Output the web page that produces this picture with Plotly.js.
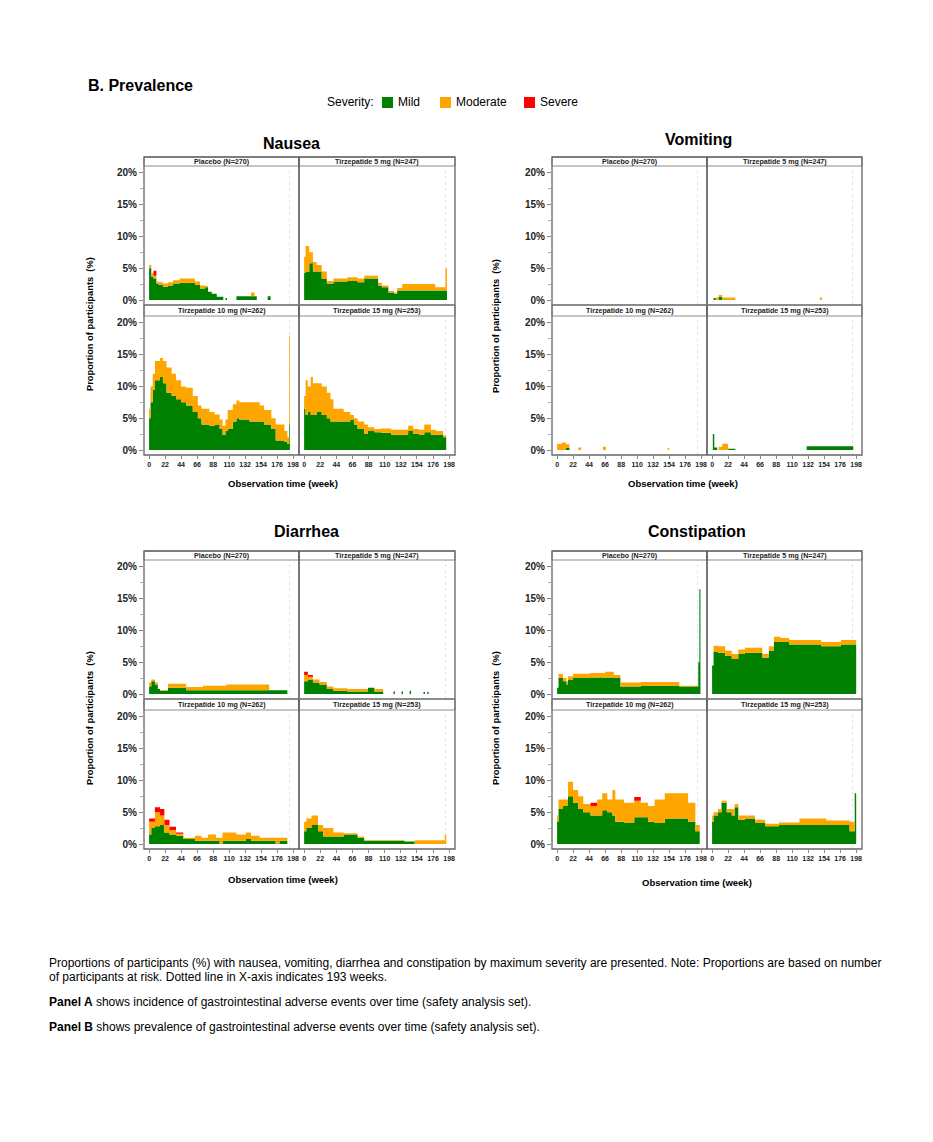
<!DOCTYPE html>
<html>
<head>
<meta charset="utf-8">
<script src="https://cdn.plot.ly/plotly-3.0.1.min.js"></script>
<style>html,body{margin:0;padding:0;background:#fff}#chart{width:933px;height:1142px}</style>
</head>
<body>
<div id="chart"></div>
<script>
// ---------------- DATA (week = start of each step; values in %) ----------------
const xTicks = [0, 22, 44, 66, 88, 110, 132, 154, 176, 198];
const yTicks = [0, 5, 10, 15, 20];
const yTickText = ['0%', '5%', '10%', '15%', '20%'];
const armLabels = ['Placebo (N=270)', 'Tirzepatide 5 mg (N=247)', 'Tirzepatide 10 mg (N=262)', 'Tirzepatide 15 mg (N=253)'];
const eventNames = ['Nausea', 'Vomiting', 'Diarrhea', 'Constipation'];

// Nausea
const nauPboWeek = [0, 3, 6, 10, 13, 19, 26, 33, 42, 63, 70, 77, 81, 86, 93, 97, 102, 105, 107, 120, 140, 145, 148, 163, 167];
const nauPboMild = [5.0, 3.7, 3.4, 2.6, 2.4, 2.1, 2.3, 2.6, 2.7, 2.4, 1.8, 2.0, 1.3, 1.0, 0.5, 0.5, 0, 0.3, 0, 0.6, 0.6, 0.6, 0, 0.6, 0];
const nauPboMod  = [0.5, 0.5, 0.4, 0.3, 0.4, 0.5, 0.5, 0.5, 0.7, 0.5, 0.5, 0.2, 0, 0, 0, 0, 0, 0, 0, 0, 0.6, 0, 0, 0, 0];
const nauPboSev  = [0, 0, 0.8, 0, 0, 0, 0, 0, 0, 0, 0, 0, 0, 0, 0, 0, 0, 0, 0, 0, 0, 0, 0, 0, 0];

const nauT5Week = [0, 2, 7, 12, 17, 24, 31, 40, 59, 73, 82, 101, 106, 115, 123, 127, 134, 179, 193, 195];
const nauT5Mild = [4.3, 4.5, 5.8, 4.5, 4.5, 3.3, 2.6, 2.9, 3.0, 2.8, 3.4, 2.3, 2.0, 1.2, 1.0, 1.5, 1.5, 1.5, 1.5, 0];
const nauT5Mod  = [2.5, 4.0, 1.7, 1.5, 1.0, 1.2, 0.4, 0.5, 0.6, 0.6, 0.4, 0.4, 0.3, 0.2, 0.2, 0.4, 1.0, 0.5, 3.5, 0];
const nauT5Sev  = [0, 0, 0, 0, 0, 0, 0, 0, 0, 0, 0, 0, 0, 0, 0, 0, 0, 0, 0, 0];

const nauT10Week = [0, 2, 5, 8, 15, 19, 24, 31, 37, 44, 51, 60, 67, 72, 83, 90, 97, 101, 105, 108, 115, 120, 124, 138, 152, 158, 168, 174, 186, 190, 192.5, 193.5];
const nauT10Mild = [5.0, 7.5, 9.5, 11.0, 11.5, 10.5, 9.0, 8.5, 8.0, 7.5, 7.0, 6.0, 5.0, 4.0, 3.8, 4.0, 3.3, 2.4, 3.0, 3.3, 4.5, 5.0, 4.8, 4.5, 4.5, 4.0, 3.3, 1.5, 1.3, 1.0, 4.0, 0];
const nauT10Mod  = [1.5, 2.5, 2.5, 3.0, 3.0, 3.5, 4.0, 3.5, 3.0, 2.5, 2.8, 2.5, 2.0, 2.5, 2.2, 1.6, 1.5, 1.4, 1.8, 3.0, 2.7, 2.8, 2.7, 3.0, 2.5, 2.3, 1.7, 2.5, 1.7, 1.0, 14.0, 0];
const nauT10Sev  = [0, 0, 0, 0, 0, 0, 0, 0, 0, 0, 0, 0, 0, 0, 0, 0, 0, 0, 0, 0, 0, 0, 0, 0, 0, 0, 0, 0, 0, 0, 0, 0];

const nauT15Week = [0, 2, 5, 9, 12, 17, 24, 31, 36, 40, 54, 63, 68, 73, 82, 87, 96, 105, 119, 142, 149, 157, 164, 173, 180, 190, 194];
const nauT15Mild = [6.5, 5.5, 6.0, 5.5, 5.5, 6.0, 5.5, 5.0, 4.5, 4.5, 4.5, 4.8, 4.0, 3.3, 2.5, 3.0, 2.8, 2.7, 2.4, 3.0, 2.5, 2.4, 2.8, 2.4, 2.4, 2.0, 0];
const nauT15Mod  = [2.0, 5.5, 4.0, 6.0, 5.0, 4.5, 4.5, 4.0, 3.5, 2.0, 1.5, 0.7, 1.0, 1.2, 1.5, 0.6, 0.5, 0.7, 0.8, 0.8, 0.8, 0.8, 1.2, 0.8, 0.6, 0.3, 0];
const nauT15Sev  = [0, 0, 0, 0, 0, 0, 0, 0, 0, 0, 0, 0, 0, 0, 0, 0, 0, 0, 0, 0, 0, 0, 0, 0, 0, 0, 0];

// Vomiting
const vomPboWeek = [0, 194];
const vomPboMild = [0, 0];
const vomPboMod  = [0, 0];
const vomPboSev  = [0, 0];

const vomT5Week = [0, 2, 5, 9, 14, 32, 148, 151, 194];
const vomT5Mild = [0, 0.3, 0, 0.5, 0, 0, 0, 0, 0];
const vomT5Mod  = [0, 0, 0.4, 0.3, 0.4, 0, 0.4, 0, 0];
const vomT5Sev  = [0, 0, 0, 0, 0, 0, 0, 0, 0];

const vomT10Week = [0, 7, 12, 17, 29, 33, 63, 67, 152, 154, 194];
const vomT10Mild = [0, 0, 0.3, 0, 0, 0, 0, 0, 0, 0, 0];
const vomT10Mod  = [1.0, 1.2, 0.6, 0, 0.4, 0, 0.5, 0, 0.3, 0, 0];
const vomT10Sev  = [0, 0, 0, 0, 0, 0, 0, 0, 0, 0, 0];

const vomT15Week = [0, 1, 3, 7, 9, 14, 22, 32, 130, 194];
const vomT15Mild = [0, 2.5, 0.4, 0, 0, 0, 0.2, 0, 0.6, 0];
const vomT15Mod  = [0, 0, 0, 0, 0.5, 1.0, 0, 0, 0, 0];
const vomT15Sev  = [0, 0, 0, 0, 0, 0, 0, 0, 0, 0];

// Diarrhea
const diaPboWeek = [0, 3, 8, 12, 15, 26, 51, 74, 106, 165, 190];
const diaPboMild = [1.2, 2.0, 1.5, 0.8, 0.5, 1.0, 0.6, 0.6, 0.6, 0.6, 0];
const diaPboMod  = [0.6, 0.3, 0.3, 0, 0.1, 0.6, 0.5, 0.7, 0.9, 0, 0];
const diaPboSev  = [0, 0, 0, 0, 0, 0, 0, 0, 0, 0, 0];

const diaT5Week = [0, 5, 12, 21, 31, 40, 59, 87, 96, 108, 122, 124, 133, 135, 144, 146, 163, 165, 168, 170];
const diaT5Mild = [2.0, 2.2, 1.8, 1.5, 0.8, 0.5, 0.4, 1.0, 0.4, 0, 0.4, 0, 0.4, 0, 0.5, 0, 0.3, 0, 0.3, 0];
const diaT5Mod  = [1.0, 0.5, 0.5, 0.4, 0.4, 0.4, 0.4, 0, 0.4, 0, 0, 0, 0, 0, 0, 0, 0, 0, 0, 0];
const diaT5Sev  = [0.5, 0.3, 0, 0, 0, 0, 0, 0, 0, 0, 0, 0, 0, 0, 0, 0, 0, 0, 0, 0];

const diaT10Week = [0, 3, 8, 15, 21, 28, 37, 47, 63, 72, 81, 92, 97, 101, 120, 133, 140, 152, 174, 179, 190];
const diaT10Mild = [1.5, 2.5, 2.8, 3.0, 1.8, 1.5, 1.3, 0.8, 0.5, 0.5, 0.5, 0.5, 0, 0.5, 0.5, 0.8, 0.5, 0.5, 0, 0.5, 0];
const diaT10Mod  = [2.0, 1.0, 2.2, 1.5, 1.2, 0.7, 0.3, 0.2, 0.8, 0.5, 1.0, 0.5, 1.0, 1.3, 1.0, 1.0, 0.8, 0.5, 1.0, 0.5, 0];
const diaT10Sev  = [0.5, 0.5, 0.8, 1.0, 0.8, 0.5, 0.2, 0, 0, 0, 0, 0, 0, 0, 0, 0, 0, 0, 0, 0, 0];

const diaT15Week = [0, 3, 10, 19, 26, 40, 54, 73, 82, 137, 151, 192, 194];
const diaT15Mild = [2.0, 2.5, 3.0, 2.0, 1.2, 1.2, 1.5, 1.0, 0.5, 0.4, 0, 0, 0];
const diaT15Mod  = [1.5, 1.5, 1.5, 1.0, 1.3, 0.6, 0.2, 0.2, 0.1, 0, 0.6, 1.5, 0];
const diaT15Sev  = [0, 0, 0, 0, 0, 0, 0, 0, 0, 0, 0, 0, 0];

// Constipation
const conPboWeek = [0, 2, 8, 13, 15, 22, 45, 66, 78, 87, 115, 168, 194, 195.5, 197];
const conPboMild = [1.0, 2.5, 2.0, 1.5, 2.3, 2.5, 2.6, 2.6, 2.5, 1.2, 1.3, 1.2, 5.0, 16.5, 0];
const conPboMod  = [0, 0.7, 0.5, 0.5, 0.5, 0.7, 0.7, 0.9, 0.5, 0.6, 0.6, 0.1, 0, 0, 0];
const conPboSev  = [0, 0, 0, 0, 0, 0, 0, 0, 0, 0, 0, 0, 0, 0, 0];

const conT5Week = [0, 2, 8, 18, 27, 36, 45, 69, 78, 85, 94, 106, 150, 177, 198];
const conT5Mild = [4.5, 6.7, 6.5, 6.0, 5.5, 6.3, 6.5, 5.7, 6.8, 8.2, 8.2, 7.8, 7.5, 7.8, 0];
const conT5Mod  = [0, 0.9, 1.0, 0.8, 0.8, 0.7, 0.8, 0.6, 0.7, 0.8, 0.6, 0.7, 0.7, 0.7, 0];
const conT5Sev  = [0, 0, 0, 0, 0, 0, 0, 0, 0, 0, 0, 0, 0, 0, 0];

const conT10Week = [0, 2, 8, 15, 22, 29, 36, 46, 55, 62, 69, 76, 80, 92, 106, 115, 125, 134, 148, 180, 190, 196];
const conT10Mild = [3.5, 5.5, 6.0, 7.5, 6.5, 5.5, 5.0, 4.5, 4.5, 5.3, 5.0, 4.5, 3.5, 3.3, 4.2, 4.2, 3.5, 3.3, 4.0, 3.5, 2.0, 0];
const conT10Mod  = [1.0, 1.5, 1.0, 2.3, 2.0, 2.0, 1.3, 1.5, 2.5, 2.7, 2.0, 4.0, 3.5, 3.2, 2.6, 2.3, 2.5, 3.7, 4.0, 3.0, 1.0, 0];
const conT10Sev  = [0, 0, 0, 0, 0, 0, 0, 0.5, 0, 0, 0, 0, 0, 0, 0.6, 0, 0, 0, 0, 0, 0, 0];

const conT15Week = [0, 2, 8, 13, 20, 27, 31, 36, 45, 59, 73, 92, 120, 157, 189, 196, 198];
const conT15Mild = [3.5, 4.5, 5.0, 6.5, 5.0, 4.5, 5.8, 3.8, 4.0, 3.3, 2.8, 3.0, 3.0, 3.0, 2.0, 8.0, 0];
const conT15Mod  = [1.0, 0.5, 0.5, 0.3, 0.5, 1.0, 0.5, 0.7, 0.5, 0.5, 0.4, 0.4, 1.0, 0.7, 1.5, 0, 0];
const conT15Sev  = [0, 0, 0, 0, 0, 0, 0, 0, 0, 0, 0, 0, 0, 0, 0, 0, 0];

// ---------------- BUILD ----------------
const W = 933, H = 1142;
const FONT = 'Arial, "Liberation Sans", sans-serif';
const C = {mild: '#008000', mod: '#FFA500', sev: '#FF0000'};
const px = v => v / W, py = v => 1 - v / H;

const panelsData = [
  [[nauPboWeek, nauPboMild, nauPboMod, nauPboSev], [nauT5Week, nauT5Mild, nauT5Mod, nauT5Sev], [nauT10Week, nauT10Mild, nauT10Mod, nauT10Sev], [nauT15Week, nauT15Mild, nauT15Mod, nauT15Sev]],
  [[vomPboWeek, vomPboMild, vomPboMod, vomPboSev], [vomT5Week, vomT5Mild, vomT5Mod, vomT5Sev], [vomT10Week, vomT10Mild, vomT10Mod, vomT10Sev], [vomT15Week, vomT15Mild, vomT15Mod, vomT15Sev]],
  [[diaPboWeek, diaPboMild, diaPboMod, diaPboSev], [diaT5Week, diaT5Mild, diaT5Mod, diaT5Sev], [diaT10Week, diaT10Mild, diaT10Mod, diaT10Sev], [diaT15Week, diaT15Mild, diaT15Mod, diaT15Sev]],
  [[conPboWeek, conPboMild, conPboMod, conPboSev], [conT5Week, conT5Mild, conT5Mod, conT5Sev], [conT10Week, conT10Mild, conT10Mod, conT10Sev], [conT15Week, conT15Mild, conT15Mod, conT15Sev]]
];

const geo = [
  {L: 144, M: 299, R: 455, dy: 0,   title: [291, 143], xt: [283, 483], yt: [90, 324]},
  {L: 552, M: 707, R: 862, dy: 0,   title: [698, 139], xt: [683, 483], yt: [496, 326]},
  {L: 144, M: 299, R: 455, dy: 394, title: [306, 531], xt: [283, 880], yt: [90, 718]},
  {L: 552, M: 707, R: 862, dy: 394, title: [697, 531], xt: [697, 882], yt: [496, 718]}
];

const traces = [], shapes = [], annotations = [];
const layout = {
  width: W, height: H, margin: {l: 0, r: 0, t: 0, b: 0},
  paper_bgcolor: '#fff', plot_bgcolor: 'rgba(0,0,0,0)',
  showlegend: false, font: {family: FONT, color: '#000'}
};

function ann(text, x, y, size, opts) {
  annotations.push(Object.assign({
    text: text, x: px(x), y: py(y), xref: 'paper', yref: 'paper',
    showarrow: false, xanchor: 'center', yanchor: 'middle',
    font: {family: FONT, size: size, color: '#000'}
  }, opts || {}));
}

let axn = 0;
geo.forEach((g, gi) => {
  const rowsY = [[166 + g.dy, 305 + g.dy], [316 + g.dy, 455 + g.dy]];
  const stripY = [[157 + g.dy, 166 + g.dy], [305 + g.dy, 316 + g.dy]];
  const colsX = [[g.L, g.M], [g.M, g.R]];
  for (let k = 0; k < 4; k++) {
    axn++;
    const row = Math.floor(k / 2), col = k % 2;
    const xs = axn === 1 ? '' : String(axn);
    const [wk, mi, mo, se] = panelsData[gi][k];
    [[mi, C.mild], [mo, C.mod], [se, C.sev]].forEach(([vals, colr]) => {
      traces.push({
        type: 'scatter', mode: 'lines', x: wk, y: vals, stackgroup: 'sg' + axn,
        line: {shape: 'hv', width: 0, color: colr}, fillcolor: colr,
        xaxis: 'x' + xs, yaxis: 'y' + xs, hoverinfo: 'skip', showlegend: false
      });
    });
    layout['xaxis' + xs] = {
      domain: [px(colsX[col][0]), px(colsX[col][1])], anchor: 'y' + xs,
      range: [-7, 206], showgrid: false, zeroline: false, showline: false,
      tickmode: 'array', tickvals: xTicks, ticktext: xTicks.map(String),
      ticks: row === 1 ? 'outside' : '', ticklen: 3, tickcolor: '#888', tickwidth: 1,
      showticklabels: row === 1,
      tickfont: {family: FONT, size: 7, color: '#222', weight: 'bold'}, fixedrange: true
    };
    layout['yaxis' + xs] = {
      domain: [py(rowsY[row][1]), py(rowsY[row][0])], anchor: 'x' + xs,
      range: [-0.787, 21.1], showgrid: false, zeroline: false, showline: false,
      tickmode: 'array', tickvals: yTicks, ticktext: yTickText,
      ticks: col === 0 ? 'outside' : '', ticklen: 4, tickcolor: '#888', tickwidth: 1,
      showticklabels: col === 0,
      minor: col === 0 ? {tickmode: 'array', tickvals: [2.5, 7.5, 12.5, 17.5], ticks: 'outside', ticklen: 3, tickcolor: '#aaa'} : undefined,
      tickfont: {family: FONT, size: 10, color: '#222', weight: 'bold'}, fixedrange: true
    };
    // dotted line at week 193
    shapes.push({type: 'line', xref: 'x' + xs, yref: 'y' + xs + ' domain', x0: 193, x1: 193, y0: 0, y1: 1,
      line: {color: '#dadada', width: 0.8, dash: 'dot'}, layer: 'below'});
    // strip
    shapes.push({type: 'rect', xref: 'paper', yref: 'paper',
      x0: px(colsX[col][0]), x1: px(colsX[col][1]), y0: py(stripY[row][1]), y1: py(stripY[row][0]),
      line: {color: '#8c8c8c', width: 1}, fillcolor: '#ffffff', layer: 'above'});
    ann('<b>' + armLabels[k] + '</b>', (colsX[col][0] + colsX[col][1]) / 2, (stripY[row][0] + stripY[row][1]) / 2 + 0.5, 7.1, {font: {family: FONT, size: 7.1, color: '#222'}});
  }
  // outer frame and divider
  shapes.push({type: 'rect', xref: 'paper', yref: 'paper', x0: px(g.L), x1: px(g.R), y0: py(455 + g.dy), y1: py(157 + g.dy),
    line: {color: '#666', width: 1.3}, fillcolor: 'rgba(0,0,0,0)', layer: 'above'});
  shapes.push({type: 'line', xref: 'paper', yref: 'paper', x0: px(g.M), x1: px(g.M), y0: py(455 + g.dy), y1: py(157 + g.dy),
    line: {color: '#555', width: 1.6}, layer: 'above'});
  shapes.push({type: 'line', xref: 'paper', yref: 'paper', x0: px(g.L), x1: px(g.R), y0: py(305 + g.dy), y1: py(305 + g.dy),
    line: {color: '#777', width: 1.6}, layer: 'above'});
  // titles
  ann('<b>' + eventNames[gi] + '</b>', g.title[0], g.title[1], 16);
  ann('<b>Observation time (week)</b>', g.xt[0], g.xt[1], 9.5);
  ann('<b>Proportion of participants  (%)</b>', g.yt[0], g.yt[1], 9.3, {textangle: -90});
});

// Header
ann('<b>B. Prevalence</b>', 86, 85, 16, {xanchor: 'left'});
ann('Severity:', 325, 102, 12, {xanchor: 'left'});
const legendItems = [['Mild', C.mild, 382], ['Moderate', C.mod, 440], ['Severe', C.sev, 524]];
legendItems.forEach(([t, c, x]) => {
  shapes.push({type: 'rect', xref: 'paper', yref: 'paper', x0: px(x), x1: px(x + 11), y0: py(108), y1: py(97),
    fillcolor: c, line: {width: 0}});
  ann(t, x + 13.5, 102, 12, {xanchor: 'left'});
});

// Footer
const ft = 12.0;
ann('Proportions of participants (%) with nausea, vomiting, diarrhea and constipation by maximum severity are presented. Note: Proportions are based on number', 47, 963, ft, {xanchor: 'left'});
ann('of participants at risk. Dotted line in X-axis indicates 193 weeks.', 47, 977, ft, {xanchor: 'left'});
ann('<b>Panel A</b> shows incidence of gastrointestinal adverse events over time (safety analysis set).', 47, 1002, ft, {xanchor: 'left'});
ann('<b>Panel B</b> shows prevalence of gastrointestinal adverse events over time (safety analysis set).', 47, 1027, ft, {xanchor: 'left'});

layout.shapes = shapes;
layout.annotations = annotations;
Plotly.newPlot('chart', traces, layout, {staticPlot: true, displayModeBar: false});
</script>
</body>
</html>
